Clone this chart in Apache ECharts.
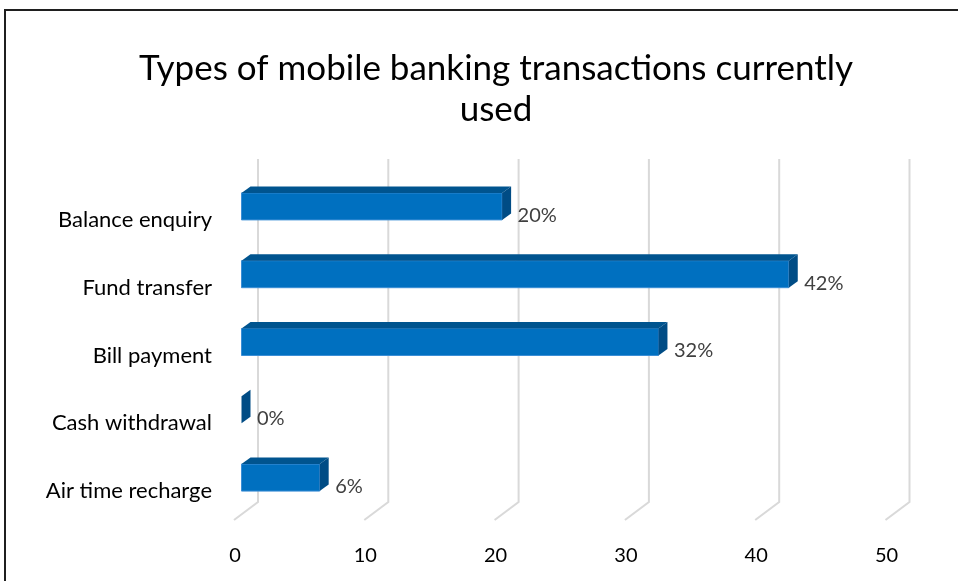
<!DOCTYPE html>
<html>
<head>
<meta charset="utf-8">
<script src="https://cdn.jsdelivr.net/npm/echarts@6/dist/echarts.min.js"></script>
<style>
  html, body { margin: 0; padding: 0; background: #fff; }
  #chart { width: 958px; height: 581px; }
</style>
</head>
<body>
<div id="chart"></div>
<script>
// Survey shares, in percent
const categories = ['Balance enquiry', 'Fund transfer', 'Bill payment', 'Cash withdrawal', 'Air time recharge'];
const shares = [20, 42, 32, 0, 6];
const xTicks = [0, 10, 20, 30, 40, 50];

const FONT = 'Lato, "Open Sans", sans-serif';

// Pseudo-3D geometry (pixels)
const BAR_SHIFT = 6.5;     // bar front face relative to floor front edge
const BAR_H = 27;          // front face height
const DEPTH_X = 9, DEPTH_Y = 6.5;
const WALL_X = 23;         // back wall offset for gridlines

const chart = echarts.init(document.getElementById('chart'), null, { renderer: 'canvas' });

function renderBar(params, api) {
  const v = api.value(0);
  const ci = api.value(1);
  const p0 = api.coord([0, ci]);
  const p1 = api.coord([v, ci]);
  const xa = p0[0] + BAR_SHIFT;
  const xb = p1[0] + BAR_SHIFT;
  const yc = p0[1];
  const top = yc - BAR_H;
  const children = [];
  if (xb - xa > 0.5) {
    children.push({
      type: 'rect',
      shape: { x: xa, y: top, width: xb - xa, height: BAR_H },
      style: { fill: '#0070C0', stroke: '#3B8ED6', lineWidth: 1 }
    });
    children.push({
      type: 'polygon',
      shape: { points: [[xa, top], [xb, top], [xb + DEPTH_X, top - DEPTH_Y], [xa + DEPTH_X, top - DEPTH_Y]] },
      style: { fill: '#00548F' }
    });
  }
  children.push({
    type: 'polygon',
    shape: { points: [[xb, top], [xb + DEPTH_X, top - DEPTH_Y], [xb + DEPTH_X, yc - DEPTH_Y], [xb, yc]] },
    style: { fill: '#004C85' }
  });
  children.push({
    type: 'text',
    style: {
      x: xb + 15.5, y: yc - 4.5,
      text: v + '%',
      fill: '#404040',
      font: '20px ' + FONT,
      textAlign: 'left', textVerticalAlign: 'middle'
    }
  });
  return { type: 'group', children: children };
}

function renderGridLine(params, api) {
  const cs = params.coordSys;
  const x = api.coord([api.value(0), 0])[0];
  const bottom = cs.y + cs.height;
  return {
    type: 'polyline',
    shape: { points: [[x + WALL_X, cs.y - 27], [x + WALL_X, bottom - 23], [x - 1, bottom - 5]] },
    style: { stroke: '#D9D9D9', lineWidth: 2, fill: null }
  };
}

chart.setOption({
  backgroundColor: '#ffffff',
  animation: false,
  title: {
    text: 'Types of mobile banking transactions currently\nused',
    left: 491,
    top: 43,
    textAlign: 'center',
    textStyle: { fontFamily: FONT, fontSize: 35, fontWeight: 'normal', color: '#000', lineHeight: 41 }
  },
  graphic: [{
    type: 'rect',
    shape: { x: 5, y: 10, width: 1000, height: 620 },
    style: { fill: null, stroke: '#1f1f1f', lineWidth: 2 },
    silent: true
  }],
  grid: { left: 235, right: 71.5, top: 186, bottom: 56 },
  xAxis: {
    type: 'value', min: 0, max: 50, interval: 10,
    axisLine: { show: false }, axisTick: { show: false }, splitLine: { show: false },
    axisLabel: { fontFamily: FONT, fontSize: 20, color: '#000', margin: 21 }
  },
  yAxis: {
    type: 'category', inverse: true, data: categories,
    axisLine: { show: false }, axisTick: { show: false }, splitLine: { show: false },
    axisLabel: { fontFamily: FONT, fontSize: 22, color: '#000', margin: 23 }
  },
  series: [
    {
      type: 'custom', name: 'grid', z: 1, clip: false, silent: true,
      renderItem: renderGridLine,
      encode: { x: 0, y: 1 },
      data: xTicks.map(t => [t, 0])
    },
    {
      type: 'custom', name: 'Share', z: 2, clip: false,
      renderItem: renderBar,
      encode: { x: 0, y: 1 },
      data: shares.map((v, i) => [v, i])
    }
  ]
});
</script>
</body>
</html>
